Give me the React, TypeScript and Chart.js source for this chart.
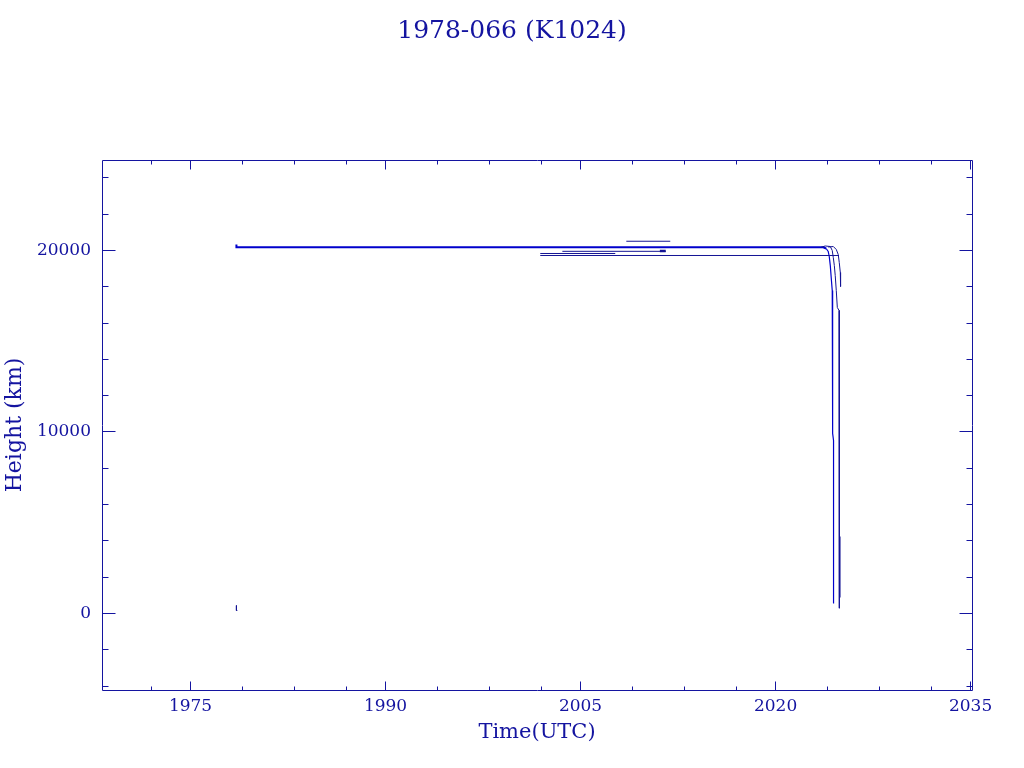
import { useEffect, useRef } from 'react';
import { Chart, registerables } from 'chart.js';

Chart.register(...registerables);

const TITLE = '1978-066 (K1024)';
const X_TITLE = 'Time(UTC)';
const Y_TITLE = 'Height (km)';

const AXIS_COLOR = '#1414a0';
const THIN_COLOR = '#141494';
const THICK_COLOR = '#0000cc';

const xMajorTicks = [1975, 1990, 2005, 2020, 2035];
const xMinorTicks = [1972, 1979, 1983, 1987, 1994, 1998, 2002, 2009, 2013, 2017, 2024, 2028, 2032];
const yMajorTicks = [0, 10000, 20000];
const yMinorTicks = [-4000, -2000, 2000, 4000, 6000, 8000, 12000, 14000, 16000, 18000, 22000, 24000];

// launch point near the ground
const launchYears = [1978.53, 1978.53, 1978.6];
const launchKm = [440, 165, 165];

// main track (thick) with first decay curve
const mainYears = [1978.53, 1978.53, 2023.67, 2023.89, 2024.05, 2024.13, 2024.21, 2024.28, 2024.36, 2024.39, 2024.39, 2024.46, 2024.46];
const mainKm = [20330, 20180, 20180, 20110, 19945, 19670, 19170, 18510, 17800, 17245, 9920, 9530, 550];

// second decay curve
const midYears = [2023.5, 2023.82, 2024.21, 2024.36, 2024.44, 2024.52, 2024.59, 2024.67, 2024.75, 2024.88, 2024.88, 2024.92, 2024.92];
const midKm = [20180, 20248, 20220, 20000, 19614, 19174, 18623, 17796, 16860, 16700, 880, 860, 290];

// third decay curve
const rightYears = [2024.05, 2024.44, 2024.67, 2024.82, 2024.9, 2024.98, 2025.0];
const rightKm = [20190, 20220, 20055, 19780, 19340, 18790, 18015];

// short lower segment near the ground
const lowYears = [2024.94, 2024.94];
const lowKm = [4240, 880];

// shorter tracks
const upperYears = [2008.52, 2011.9];
const upperKm = [20510, 20510];

const trackAYears = [2003.6, 2011.55];
const trackAKm = [19955, 19955];

const blobYears = [2011.1, 2011.55];
const blobKm = [19972, 19972];

const trackBYears = [2001.9, 2007.67];
const trackBKm = [19835, 19835];

const trackCYears = [2001.9, 2024.88];
const trackCKm = [19725, 19725];

const toPoints = (xs: number[], ys: number[]) => xs.map((x, i) => ({ x, y: ys[i] }));

const ticksPlugin = {
  id: 'frameTicks',
  afterDraw(chart: any) {
    const { ctx, chartArea } = chart;
    const { left, right, top, bottom } = chartArea;
    const xs = chart.scales.x;
    const ys = chart.scales.y;
    const l = Math.floor(left) + 0.5;
    const r = Math.floor(right) + 0.5;
    const t = Math.floor(top) + 0.5;
    const b = Math.floor(bottom) + 0.5;
    ctx.save();
    ctx.strokeStyle = AXIS_COLOR;
    ctx.lineWidth = 1;
    ctx.beginPath();
    ctx.rect(l, t, r - l, b - t);
    const vt = (v: number, len: number) => {
      const p = Math.floor(xs.getPixelForValue(v)) + 0.5;
      ctx.moveTo(p, b);
      ctx.lineTo(p, b - len);
      ctx.moveTo(p, t);
      ctx.lineTo(p, t + len);
    };
    const ht = (v: number, len: number) => {
      const p = Math.floor(ys.getPixelForValue(v)) + 0.5;
      ctx.moveTo(l, p);
      ctx.lineTo(l + len, p);
      ctx.moveTo(r, p);
      ctx.lineTo(r - len, p);
    };
    xMajorTicks.forEach((v) => vt(v, 9));
    xMinorTicks.forEach((v) => vt(v, 4));
    yMajorTicks.forEach((v) => ht(v, 13));
    yMinorTicks.forEach((v) => ht(v, 6));
    ctx.stroke();
    ctx.restore();
  },
};

export default function App() {
  const ref = useRef<HTMLCanvasElement | null>(null);

  useEffect(() => {
    if (!ref.current) return;
    Chart.defaults.font.family = "'DejaVu Serif', serif";
    const thin = (xs: number[], ys: number[], w = 1) => ({
      data: toPoints(xs, ys),
      borderColor: THIN_COLOR,
      borderWidth: w,
      pointRadius: 0,
      tension: 0,
      fill: false,
      xAxisID: 'x',
      yAxisID: 'y',
    });
    const chart = new Chart(ref.current, {
      type: 'line',
      data: {
        datasets: [
          thin(upperYears, upperKm),
          thin(trackAYears, trackAKm),
          thin(blobYears, blobKm, 2.5),
          thin(trackBYears, trackBKm),
          thin(trackCYears, trackCKm),
          thin(midYears, midKm),
          thin(rightYears, rightKm),
          thin(lowYears, lowKm, 1.5),
          thin(launchYears, launchKm),
          {
            ...thin(mainYears, mainKm, 2),
            borderColor: THICK_COLOR,
            segment: {
              borderWidth: (c: any) => (c.p0DataIndex <= 2 ? 2 : 1.2),
            },
          },
        ],
      },
      plugins: [ticksPlugin],
      options: {
        animation: false,
        responsive: false,
        devicePixelRatio: 1,
        layout: { padding: 0 },
        plugins: {
          legend: { display: false },
          tooltip: { enabled: false },
          title: {
            display: true,
            text: TITLE,
            color: AXIS_COLOR,
            font: { size: 25, weight: 'normal', lineHeight: 1.2 },
            padding: { top: 16, bottom: 114 },
          },
        },
        scales: {
          x: {
            type: 'linear',
            min: 1968.19,
            max: 2035.11,
            grid: { display: false, drawTicks: false, tickLength: 0 },
            border: { display: false },
            afterBuildTicks: (axis: any) => {
              axis.ticks = xMajorTicks.map((v) => ({ value: v }));
            },
            afterFit: (scale: any) => {
              scale.height = 78;
            },
            ticks: {
              autoSkip: false,
              maxRotation: 0,
              color: AXIS_COLOR,
              padding: 6,
              font: { size: 17 },
              callback: (v: any) => String(v),
            },
            title: {
              display: true,
              text: X_TITLE,
              color: AXIS_COLOR,
              font: { size: 21, lineHeight: 1.2 },
              padding: { top: 0, bottom: 23 },
            },
          },
          y: {
            type: 'linear',
            position: 'left',
            min: -4215,
            max: 24986,
            grid: { display: false, drawTicks: false, tickLength: 0 },
            border: { display: false },
            afterBuildTicks: (axis: any) => {
              axis.ticks = yMajorTicks.map((v) => ({ value: v }));
            },
            afterFit: (scale: any) => {
              scale.width = 102;
            },
            ticks: {
              autoSkip: false,
              color: AXIS_COLOR,
              padding: 11,
              font: { size: 17 },
              callback: (v: any) => String(v),
            },
            title: {
              display: true,
              text: Y_TITLE,
              color: AXIS_COLOR,
              font: { size: 22, lineHeight: 1.2 },
              padding: { top: 2, bottom: 0 },
            },
          },
          yRight: {
            type: 'linear',
            axis: 'y',
            position: 'right',
            min: -4215,
            max: 24986,
            grid: { display: false, drawTicks: false, tickLength: 0 },
            border: { display: false },
            ticks: { display: false },
            afterFit: (scale: any) => {
              scale.width = 52;
            },
          },
        },
      },
    } as any);
    return () => chart.destroy();
  }, []);

  return (
    <div style={{ position: 'fixed', left: 0, top: 0, width: 1024, height: 768, background: '#ffffff' }}>
      <canvas ref={ref} width={1024} height={768} style={{ display: 'block', width: 1024, height: 768 }} />
    </div>
  );
}
